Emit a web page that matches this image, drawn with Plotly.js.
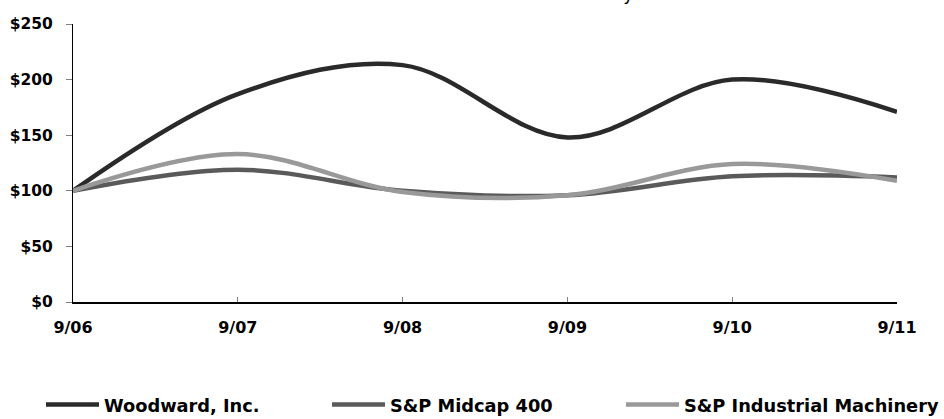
<!DOCTYPE html>
<html>
<head>
<meta charset="utf-8">
<script src="https://cdn.plot.ly/plotly-3.0.1.min.js"></script>
<style>
html,body{margin:0;padding:0;background:#fff;}
#chart{width:944px;height:419px;}
</style>
</head>
<body>
<div id="chart"></div>
<script>
const periods = ["9/06", "9/07", "9/08", "9/09", "9/10", "9/11"];
const woodward = [100, 187, 213, 148, 200, 171];
const midcap400 = [100, 119, 100, 96, 113, 112];
const industrialMachinery = [100, 133, 99, 96, 124, 109];
const yTickVals = [0, 50, 100, 150, 200, 250];
const yTickText = ["$0", "$50", "$100", "$150", "$200", "$250"];
const seriesNames = ["Woodward, Inc.", "S&P Midcap 400", "S&P Industrial Machinery"];
const titleText = "and the S&P Industrial Machinery Index";

const xIdx = periods.map((_, i) => i);
const colors = ["#2a2a2a", "#5a5a5a", "#999999"];
const seriesData = [woodward, midcap400, industrialMachinery];
const legendIds = ["legend", "legend2", "legend3"];
const legendLeft = [41, 327, 621];

const traces = seriesData.map((vals, k) => ({
  type: "scatter",
  mode: "lines",
  x: xIdx,
  y: vals,
  name: seriesNames[k],
  legend: legendIds[k],
  line: {color: colors[k], width: 4.5, shape: "spline", smoothing: 1},
  hoverinfo: "skip"
}));

const tickFont = {family: "DejaVu Sans", size: 16, color: "#000", weight: 700};

const layout = {
  width: 944,
  height: 419,
  paper_bgcolor: "#fff",
  plot_bgcolor: "#fff",
  margin: {l: 73, r: 47, t: 24, b: 117, pad: 0, autoexpand: false},
  title: {
    text: titleText,
    font: {family: "DejaVu Sans", size: 17.5, color: "#000"},
    xref: "container", x: 0.545, xanchor: "center",
    yref: "container", y: 1, yanchor: "bottom",
    pad: {t: 0, b: 0, l: 0, r: 0}
  },
  xaxis: {
    range: [0, 5],
    tickvals: xIdx,
    ticktext: periods,
    ticks: "inside",
    ticklen: 5,
    tickcolor: "#808080",
    tickwidth: 1,
    showline: true,
    linecolor: "#000",
    linewidth: 1.5,
    showgrid: false,
    zeroline: false,
    tickfont: tickFont,
    ticklabelstandoff: 10,
    fixedrange: true
  },
  yaxis: {
    range: [0, 250],
    tickvals: yTickVals,
    ticktext: yTickText,
    ticks: "outside",
    ticklen: 6,
    tickcolor: "#808080",
    tickwidth: 1,
    showline: true,
    linecolor: "#000",
    linewidth: 1,
    showgrid: false,
    zeroline: false,
    tickfont: {family: "DejaVu Sans", size: 15.5, color: "#000", weight: 700},
    ticklabelstandoff: 10,
    fixedrange: true
  },
  showlegend: true
};

legendIds.forEach((id, k) => {
  layout[id] = {
    orientation: "h",
    xref: "container",
    x: legendLeft[k] / 944,
    xanchor: "left",
    yref: "container",
    y: (419 - 405) / 419,
    yanchor: "middle",
    font: {family: "DejaVu Sans", size: 17.8, color: "#000", weight: 700},
    itemwidth: 53,
    bgcolor: "rgba(0,0,0,0)",
    borderwidth: 0
  };
});

Plotly.newPlot("chart", traces, layout, {displayModeBar: false, staticPlot: true});
</script>
</body>
</html>
